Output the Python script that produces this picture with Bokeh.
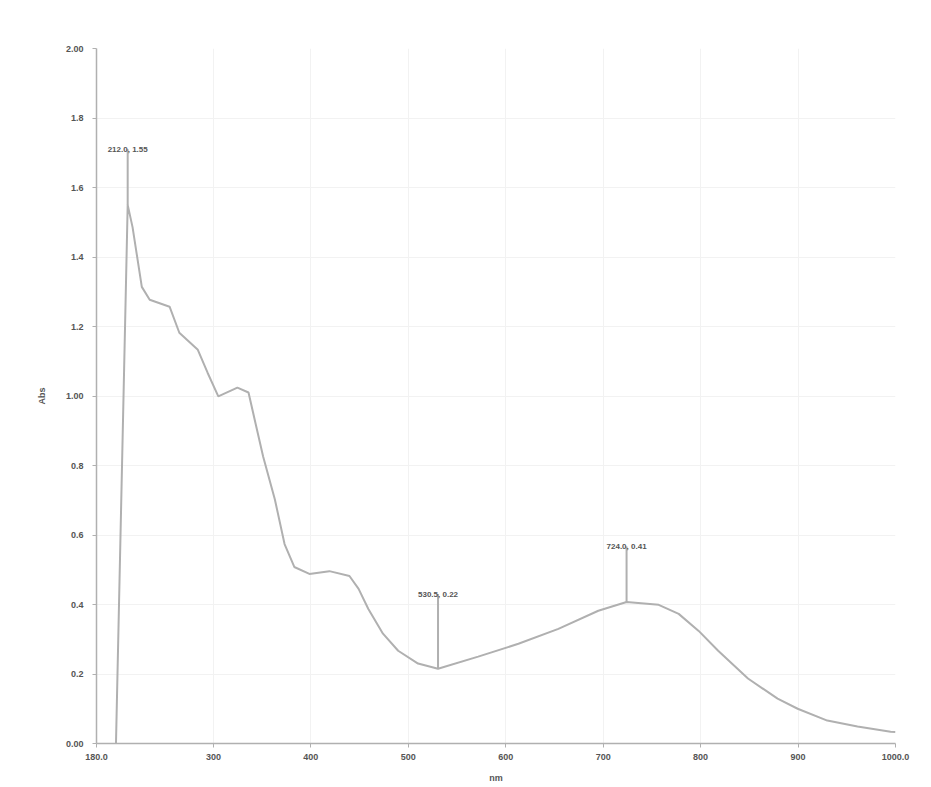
from bokeh.plotting import figure
from bokeh.models import FixedTicker, ColumnDataSource, Range1d
from bokeh.core.properties import value
from bokeh.embed import file_html
from bokeh.resources import INLINE

# Spectrum (wavelength nm, absorbance)
wavelength = [200, 212, 217, 226.5, 234.6, 255, 265, 284, 294, 305, 324.6, 336, 343, 351,
              363, 373, 383, 398.5, 419, 439.6, 449, 459, 474, 489.6, 510, 530.5, 571.7, 613,
              654, 695, 724, 757, 777.5, 798, 818, 848.6, 879, 899.6, 930, 961, 995, 1000]
absorbance = [0.0, 1.55, 1.486, 1.314, 1.277, 1.257, 1.182, 1.133, 1.067, 0.999, 1.024, 1.01, 0.924, 0.826,
              0.703, 0.574, 0.508, 0.488, 0.496, 0.482, 0.445, 0.387, 0.316, 0.267, 0.23, 0.215, 0.25, 0.287,
              0.33, 0.382, 0.407, 0.399, 0.373, 0.324, 0.267, 0.187, 0.129, 0.10, 0.066, 0.049, 0.034, 0.033]

# Peak / valley picks
pick_x = [212.0, 530.5, 724.0]
pick_y = [1.55, 0.215, 0.407]
pick_labels = ["212.0, 1.55", "530.5, 0.22", "724.0, 0.41"]
stem_len = [0.16, 0.215, 0.16]

x_ticks = [180, 300, 400, 500, 600, 700, 800, 900, 1000]
x_tick_labels = ["180.0", "300", "400", "500", "600", "700", "800", "900", "1000.0"]
y_ticks = [0.0, 0.2, 0.4, 0.6, 0.8, 1.0, 1.2, 1.4, 1.6, 1.8, 2.0]
y_tick_labels = ["0.00", "0.2", "0.4", "0.6", "0.8", "1.00", "1.2", "1.4", "1.6", "1.8", "2.00"]

FONT = "Liberation Sans"
GREY = "#b0b0b0"
TXT = "#555555"

p = figure(width=929, height=785, output_backend="svg", toolbar_location=None,
           x_range=Range1d(180, 1000), y_range=Range1d(0, 2.0),
           min_border_left=96, min_border_right=34, min_border_top=48, min_border_bottom=40,
           x_axis_label="nm", y_axis_label="Abs")

p.background_fill_color = "white"
p.border_fill_color = "white"
p.outline_line_color = None

p.xaxis.ticker = FixedTicker(ticks=x_ticks)
p.xaxis.major_label_overrides = {t: l for t, l in zip(x_ticks, x_tick_labels)}
p.yaxis.ticker = FixedTicker(ticks=y_ticks)
p.yaxis.major_label_overrides = {t: l for t, l in zip(y_ticks, y_tick_labels)}

for ax in (p.xaxis, p.yaxis):
    ax.axis_line_color = GREY
    ax.axis_line_width = 1.5
    ax.major_tick_line_color = GREY
    ax.minor_tick_line_color = None
    ax.major_tick_in = 0
    ax.major_tick_out = 4
    ax.major_label_text_font = FONT
    ax.major_label_text_font_size = "9px"
    ax.major_label_text_color = TXT
    ax.major_label_text_font_style = "bold"
    ax.axis_label_text_font = FONT
    ax.axis_label_text_font_size = "9px"
    ax.axis_label_text_font_style = "bold"
    ax.axis_label_text_color = TXT
p.xaxis.axis_label_standoff = 10
p.xaxis.major_label_standoff = 6
p.yaxis.axis_label_standoff = 16
p.yaxis.major_label_standoff = 9

p.xgrid.grid_line_color = "#f2f2f2"
p.ygrid.grid_line_color = "#f2f2f2"
p.xgrid.ticker = FixedTicker(ticks=x_ticks)
p.ygrid.ticker = FixedTicker(ticks=y_ticks)

p.line(wavelength, absorbance, line_color=GREY, line_width=2)

top = [y + s for y, s in zip(pick_y, stem_len)]
p.segment(x0=pick_x, y0=pick_y, x1=pick_x, y1=top, line_color=GREY, line_width=2)
src = ColumnDataSource(dict(x=pick_x, y=top, t=pick_labels))
p.text(x="x", y="y", text="t", source=src, text_align="center", text_baseline="middle",
       text_font=value(FONT), text_font_size="8px", text_color=TXT, text_font_style="bold")

open("out.html", "w").write(file_html(p, INLINE))
